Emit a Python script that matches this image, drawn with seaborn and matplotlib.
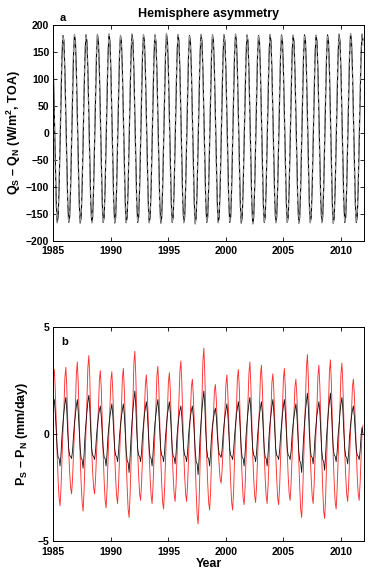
import numpy as np
import pandas as pd
import matplotlib
matplotlib.use("Agg")
import matplotlib.pyplot as plt
import seaborn as sns

# years covered by the monthly series
years = list(range(1985, 2012))

# panel a: Q_S - Q_N at TOA (W/m^2), one row of 12 months per year
toa_black = [
    [118, 35, -55, -128, -165, -156, -102, -20, 70, 143, 181, 171],
    [118, 35, -55, -128, -166, -156, -102, -20, 70, 143, 182, 171],
    [117, 34, -55, -129, -167, -157, -102, -21, 70, 143, 182, 170],
    [118, 35, -55, -128, -166, -156, -102, -20, 71, 144, 183, 171],
    [118, 35, -55, -128, -166, -156, -102, -20, 70, 143, 183, 171],
    [118, 35, -56, -129, -167, -157, -102, -20, 70, 143, 181, 170],
    [118, 35, -55, -128, -166, -156, -102, -20, 70, 144, 183, 171],
    [118, 35, -55, -128, -166, -156, -102, -20, 70, 143, 182, 171],
    [117, 35, -55, -128, -166, -156, -102, -20, 70, 143, 182, 170],
    [118, 35, -55, -129, -167, -157, -103, -21, 70, 144, 184, 172],
    [118, 35, -55, -128, -166, -156, -102, -20, 70, 143, 182, 171],
    [118, 35, -55, -128, -166, -156, -102, -20, 70, 143, 181, 170],
    [117, 34, -56, -129, -168, -157, -103, -21, 70, 143, 182, 171],
    [118, 35, -55, -128, -166, -156, -102, -20, 70, 143, 182, 171],
    [118, 35, -55, -128, -166, -156, -102, -20, 70, 143, 182, 170],
    [118, 35, -55, -128, -166, -156, -102, -20, 70, 144, 183, 171],
    [118, 35, -55, -129, -167, -157, -102, -20, 70, 143, 182, 171],
    [118, 35, -55, -128, -168, -157, -103, -21, 70, 143, 181, 170],
    [117, 35, -55, -128, -166, -156, -102, -20, 70, 143, 182, 171],
    [118, 35, -55, -128, -166, -156, -102, -20, 70, 143, 182, 171],
    [118, 35, -55, -128, -166, -156, -102, -20, 70, 143, 181, 170],
    [118, 35, -55, -128, -167, -157, -102, -20, 70, 143, 182, 171],
    [118, 35, -55, -128, -166, -156, -102, -20, 70, 143, 181, 170],
    [117, 35, -55, -128, -166, -156, -102, -20, 70, 143, 182, 171],
    [118, 35, -55, -129, -167, -157, -102, -20, 70, 144, 183, 171],
    [118, 35, -55, -128, -166, -156, -102, -20, 70, 143, 184, 172],
    [118, 35, -55, -128, -166, -156, -102, -20, 70, 144, 183, 172],
]
toa_gray = [
    [99, 12, -76, -142, -167, -146, -84, 3, 91, 157, 182, 161],
    [99, 12, -76, -142, -168, -146, -84, 3, 91, 157, 183, 161],
    [98, 11, -77, -143, -168, -147, -85, 2, 91, 157, 183, 160],
    [99, 12, -76, -142, -167, -146, -84, 3, 92, 158, 184, 161],
    [99, 12, -76, -142, -167, -146, -84, 3, 91, 157, 184, 161],
    [99, 12, -77, -143, -168, -147, -84, 3, 91, 157, 182, 160],
    [99, 12, -76, -142, -167, -146, -84, 3, 91, 158, 184, 161],
    [99, 12, -76, -142, -167, -146, -84, 3, 91, 157, 183, 161],
    [98, 12, -76, -142, -167, -146, -84, 3, 91, 157, 183, 160],
    [99, 12, -76, -143, -168, -147, -85, 2, 91, 158, 185, 162],
    [99, 12, -76, -142, -167, -146, -84, 3, 91, 157, 183, 161],
    [99, 12, -76, -142, -167, -146, -84, 3, 91, 157, 182, 160],
    [98, 11, -77, -143, -169, -147, -85, 2, 91, 157, 183, 161],
    [99, 12, -76, -142, -167, -146, -84, 3, 91, 157, 183, 161],
    [99, 12, -76, -142, -167, -146, -84, 3, 91, 157, 183, 160],
    [99, 12, -76, -142, -167, -146, -84, 3, 91, 158, 184, 161],
    [99, 12, -76, -143, -168, -147, -84, 3, 91, 157, 183, 161],
    [99, 12, -76, -142, -169, -147, -85, 2, 91, 157, 182, 160],
    [98, 12, -76, -142, -167, -146, -84, 3, 91, 157, 183, 161],
    [99, 12, -76, -142, -167, -146, -84, 3, 91, 157, 183, 161],
    [99, 12, -76, -142, -167, -146, -84, 3, 91, 157, 182, 160],
    [99, 12, -76, -142, -168, -147, -84, 3, 91, 157, 183, 161],
    [99, 12, -76, -142, -167, -146, -84, 3, 91, 157, 182, 160],
    [98, 12, -76, -142, -167, -146, -84, 3, 91, 157, 183, 161],
    [99, 12, -76, -143, -168, -147, -84, 3, 91, 158, 184, 161],
    [99, 12, -76, -142, -167, -146, -84, 3, 91, 157, 185, 162],
    [99, 12, -76, -142, -167, -146, -84, 3, 91, 158, 184, 162],
]

# panel b: P_S - P_N (mm/day), red and black series
precip_red = [
    [2.6, 3.0, 2.1, 0.6, -1.0, -2.2, -3.0, -3.35, -2.5, -1.2, 0.1, 1.2],
    [2.6, 3.1, 2.2, 0.6, -0.8, -1.8, -2.5, -2.8, -2.1, -1.0, 0.1, 1.3],
    [2.8, 3.35, 2.3, 0.7, -1.1, -2.3, -3.2, -3.6, -2.7, -1.3, 0.2, 1.5],
    [3.1, 3.65, 2.6, 0.7, -0.8, -1.8, -2.5, -2.8, -2.1, -1.0, 0.1, 1.2],
    [2.5, 2.95, 2.1, 0.6, -1.0, -2.2, -3.1, -3.45, -2.6, -1.2, 0.1, 1.2],
    [2.5, 2.9, 2.0, 0.6, -1.0, -2.1, -2.9, -3.25, -2.4, -1.1, 0.1, 1.2],
    [2.6, 3.05, 2.1, 0.6, -1.2, -2.5, -3.5, -3.9, -2.9, -1.4, 0.2, 1.5],
    [3.3, 3.85, 2.7, 0.8, -0.9, -2.0, -2.8, -3.1, -2.3, -1.1, 0.1, 1.1],
    [2.3, 2.75, 1.9, 0.6, -1.0, -2.1, -2.9, -3.25, -2.4, -1.1, 0.1, 1.3],
    [2.7, 3.15, 2.2, 0.6, -1.1, -2.3, -3.2, -3.5, -2.6, -1.2, 0.1, 1.1],
    [2.4, 2.85, 2.0, 0.6, -0.9, -2.0, -2.8, -3.15, -2.4, -1.1, 0.1, 1.4],
    [2.9, 3.4, 2.4, 0.7, -0.9, -2.0, -2.8, -3.15, -2.4, -1.1, 0.1, 1.0],
    [2.2, 2.55, 1.8, 0.5, -1.3, -2.7, -3.8, -4.2, -3.2, -1.5, 0.2, 1.6],
    [3.4, 4.0, 2.8, 0.8, -1.1, -2.3, -3.2, -3.55, -2.7, -1.2, 0.1, 0.9],
    [2.0, 2.3, 1.6, 0.5, -0.7, -1.5, -2.1, -2.3, -1.7, -0.8, 0.1, 1.1],
    [2.3, 2.75, 1.9, 0.6, -1.1, -2.3, -3.2, -3.55, -2.7, -1.2, 0.1, 1.2],
    [2.6, 3.0, 2.1, 0.6, -1.0, -2.1, -3.0, -3.3, -2.5, -1.2, 0.1, 1.3],
    [2.8, 3.35, 2.3, 0.7, -1.0, -2.1, -2.9, -3.2, -2.4, -1.1, 0.1, 1.3],
    [2.7, 3.2, 2.2, 0.6, -1.0, -2.1, -2.9, -3.25, -2.4, -1.1, 0.1, 1.1],
    [2.4, 2.8, 2.0, 0.6, -1.0, -2.1, -3.0, -3.3, -2.5, -1.2, 0.1, 1.2],
    [2.6, 3.05, 2.1, 0.6, -0.9, -2.0, -2.8, -3.1, -2.3, -1.1, 0.1, 1.0],
    [2.2, 2.55, 1.8, 0.5, -1.2, -2.5, -3.5, -3.9, -2.9, -1.4, 0.2, 1.5],
    [3.1, 3.7, 2.6, 0.7, -1.0, -2.1, -2.9, -3.25, -2.4, -1.1, 0.1, 1.3],
    [2.7, 3.2, 2.2, 0.6, -1.2, -2.6, -3.6, -3.95, -3.0, -1.4, 0.2, 1.4],
    [2.9, 3.45, 2.4, 0.7, -1.1, -2.3, -3.2, -3.5, -2.6, -1.2, 0.1, 1.3],
    [2.8, 3.3, 2.3, 0.7, -0.9, -2.0, -2.8, -3.15, -2.4, -1.1, 0.1, 1.0],
    [2.2, 2.55, 1.8, 0.5, -0.9, -2.0, -2.8, -3.1, -2.3, -1.1, 0.1, 0.4],
]
precip_black = [
    [1.3, 1.6, 1.0, 0.1, -0.7, -1.1, -1.15, -1.5, -0.9, -0.1, 0.5, 1.0],
    [1.4, 1.7, 1.1, 0.1, -0.7, -1.0, -1.05, -1.15, -0.8, -0.1, 0.5, 0.9],
    [1.3, 1.6, 1.0, 0.1, -0.7, -1.15, -1.2, -1.6, -1.0, -0.1, 0.5, 1.0],
    [1.5, 1.8, 1.2, 0.1, -0.7, -1.0, -1.05, -1.2, -0.8, -0.1, 0.4, 0.8],
    [1.1, 1.3, 0.8, 0.0, -0.7, -1.1, -1.15, -1.5, -0.9, -0.1, 0.4, 0.8],
    [1.1, 1.4, 0.9, 0.1, -0.7, -1.0, -1.05, -1.3, -0.85, -0.1, 0.4, 0.8],
    [1.1, 1.4, 0.9, 0.0, -0.8, -1.25, -1.35, -1.8, -1.1, -0.2, 0.5, 1.1],
    [1.6, 2.0, 1.3, 0.1, -0.7, -1.0, -1.05, -1.3, -0.85, -0.1, 0.4, 0.9],
    [1.2, 1.5, 1.0, 0.1, -0.7, -1.1, -1.15, -1.5, -0.9, -0.1, 0.5, 0.9],
    [1.3, 1.6, 1.0, 0.1, -0.7, -1.0, -1.05, -1.3, -0.85, -0.1, 0.4, 0.9],
    [1.2, 1.5, 1.0, 0.1, -0.7, -1.05, -1.1, -1.4, -0.9, -0.1, 0.4, 0.8],
    [1.1, 1.3, 0.8, 0.0, -0.7, -1.0, -1.05, -1.3, -0.85, -0.1, 0.4, 0.8],
    [1.1, 1.3, 0.8, 0.0, -0.8, -1.3, -1.4, -1.9, -1.2, -0.2, 0.5, 1.1],
    [1.6, 2.0, 1.3, 0.1, -0.7, -1.1, -1.15, -1.5, -0.9, -0.1, 0.4, 0.7],
    [1.0, 1.2, 0.8, 0.0, -0.6, -0.95, -1.0, -1.1, -0.75, -0.1, 0.4, 0.8],
    [1.1, 1.4, 0.9, 0.1, -0.7, -1.0, -1.05, -1.2, -0.8, -0.1, 0.4, 0.9],
    [1.2, 1.5, 1.0, 0.1, -0.7, -1.1, -1.15, -1.5, -0.9, -0.1, 0.5, 1.0],
    [1.4, 1.7, 1.1, 0.1, -0.7, -1.0, -1.05, -1.3, -0.85, -0.1, 0.4, 0.9],
    [1.2, 1.5, 1.0, 0.1, -0.7, -1.1, -1.15, -1.5, -0.9, -0.1, 0.5, 0.9],
    [1.3, 1.6, 1.0, 0.1, -0.7, -1.0, -1.05, -1.2, -0.8, -0.1, 0.4, 0.9],
    [1.3, 1.6, 1.0, 0.1, -0.7, -1.0, -1.05, -1.2, -0.8, -0.1, 0.4, 0.8],
    [1.1, 1.4, 0.9, 0.0, -0.8, -1.25, -1.35, -1.8, -1.1, -0.2, 0.5, 1.1],
    [1.5, 1.9, 1.2, 0.1, -0.7, -1.05, -1.1, -1.4, -0.9, -0.1, 0.4, 0.9],
    [1.2, 1.5, 1.0, 0.1, -0.8, -1.2, -1.3, -1.7, -1.0, -0.1, 0.5, 1.1],
    [1.5, 1.9, 1.2, 0.1, -0.7, -1.0, -1.05, -1.3, -0.85, -0.1, 0.4, 1.0],
    [1.4, 1.7, 1.1, 0.1, -0.7, -1.05, -1.1, -1.4, -0.9, -0.1, 0.4, 0.8],
    [1.1, 1.3, 0.8, 0.0, -0.7, -1.0, -1.05, -1.2, -0.8, -0.1, 0.3, 0.0],
]

xtick_years = [1985, 1990, 1995, 2000, 2005, 2010]
yticks_a = [-200, -150, -100, -50, 0, 50, 100, 150, 200]
yticks_b = [-5, 0, 5]

# build a long table: one row per month
t = np.array([y + m / 12 for y in years for m in range(12)])
df = pd.DataFrame({
    "time": t,
    "toa_black": np.ravel(toa_black),
    "toa_gray": np.ravel(toa_gray),
    "p_red": np.ravel(precip_red),
    "p_black": np.ravel(precip_black),
})

sns.set_style("ticks")
plt.rcParams["font.family"] = ["Liberation Sans", "DejaVu Sans"]
plt.rcParams["text.color"] = "black"
plt.rcParams["axes.labelcolor"] = "black"
plt.rcParams["xtick.color"] = "black"
plt.rcParams["ytick.color"] = "black"
plt.rcParams["mathtext.fontset"] = "custom"
plt.rcParams["mathtext.rm"] = "Liberation Sans:bold"
plt.rcParams["mathtext.bf"] = "Liberation Sans:bold"
plt.rcParams["mathtext.it"] = "Liberation Sans:bold"

fig = plt.figure(figsize=(3.68, 5.72), dpi=100)
ax1 = fig.add_axes([0.145, 0.579, 0.844, 0.377])
ax2 = fig.add_axes([0.145, 0.054, 0.844, 0.375])

sns.lineplot(data=df, x="time", y="toa_black", ax=ax1, color="black", lw=0.8)
sns.lineplot(data=df, x="time", y="toa_gray", ax=ax1, color="#9a9a9a", lw=0.8,
             linestyle=(0, (4, 3)))
sns.lineplot(data=df, x="time", y="p_red", ax=ax2, color="#ff3030", lw=0.65)
sns.lineplot(data=df, x="time", y="p_black", ax=ax2, color="#111111", lw=0.6)

for ax in (ax1, ax2):
    ax.set_xlim(1985, 2012)
    ax.set_xticks(xtick_years)
    ax.tick_params(direction="in", length=3, width=0.6, labelsize=7.5,
                   top=True, right=True, colors="black")
    ax.tick_params(axis="x", pad=4)
    ax.tick_params(axis="y", pad=3)
    for lbl in ax.get_xticklabels() + ax.get_yticklabels():
        lbl.set_fontweight("bold")
    for s in ax.spines.values():
        s.set_linewidth(0.7)
        s.set_color("black")

ax1.set_ylim(-200, 200)
ax1.set_yticks(yticks_a)
ax1.set_xlabel("")
ax1.set_ylabel(r"Q$_\mathbf{S}$ – Q$_\mathbf{N}$ (W/m$^\mathbf{2}$, TOA)",
               fontsize=9, fontweight="bold", labelpad=2)
ax1.set_title("Hemisphere asymmetry", fontsize=9, fontweight="bold", pad=6)
ax1.text(0.02, 1.01, "a", transform=ax1.transAxes, fontsize=8,
         fontweight="bold", va="bottom")

ax2.set_ylim(-5, 5)
ax2.set_yticks(yticks_b)
ax2.set_xlabel("Year", fontsize=9, fontweight="bold", labelpad=1)
ax2.set_ylabel(r"P$_\mathbf{S}$ – P$_\mathbf{N}$ (mm/day)",
               fontsize=9, fontweight="bold", labelpad=5)
ax2.text(0.025, 0.93, "b", transform=ax2.transAxes, fontsize=8,
         fontweight="bold", va="center")

fig.savefig("out.png", dpi=100)
